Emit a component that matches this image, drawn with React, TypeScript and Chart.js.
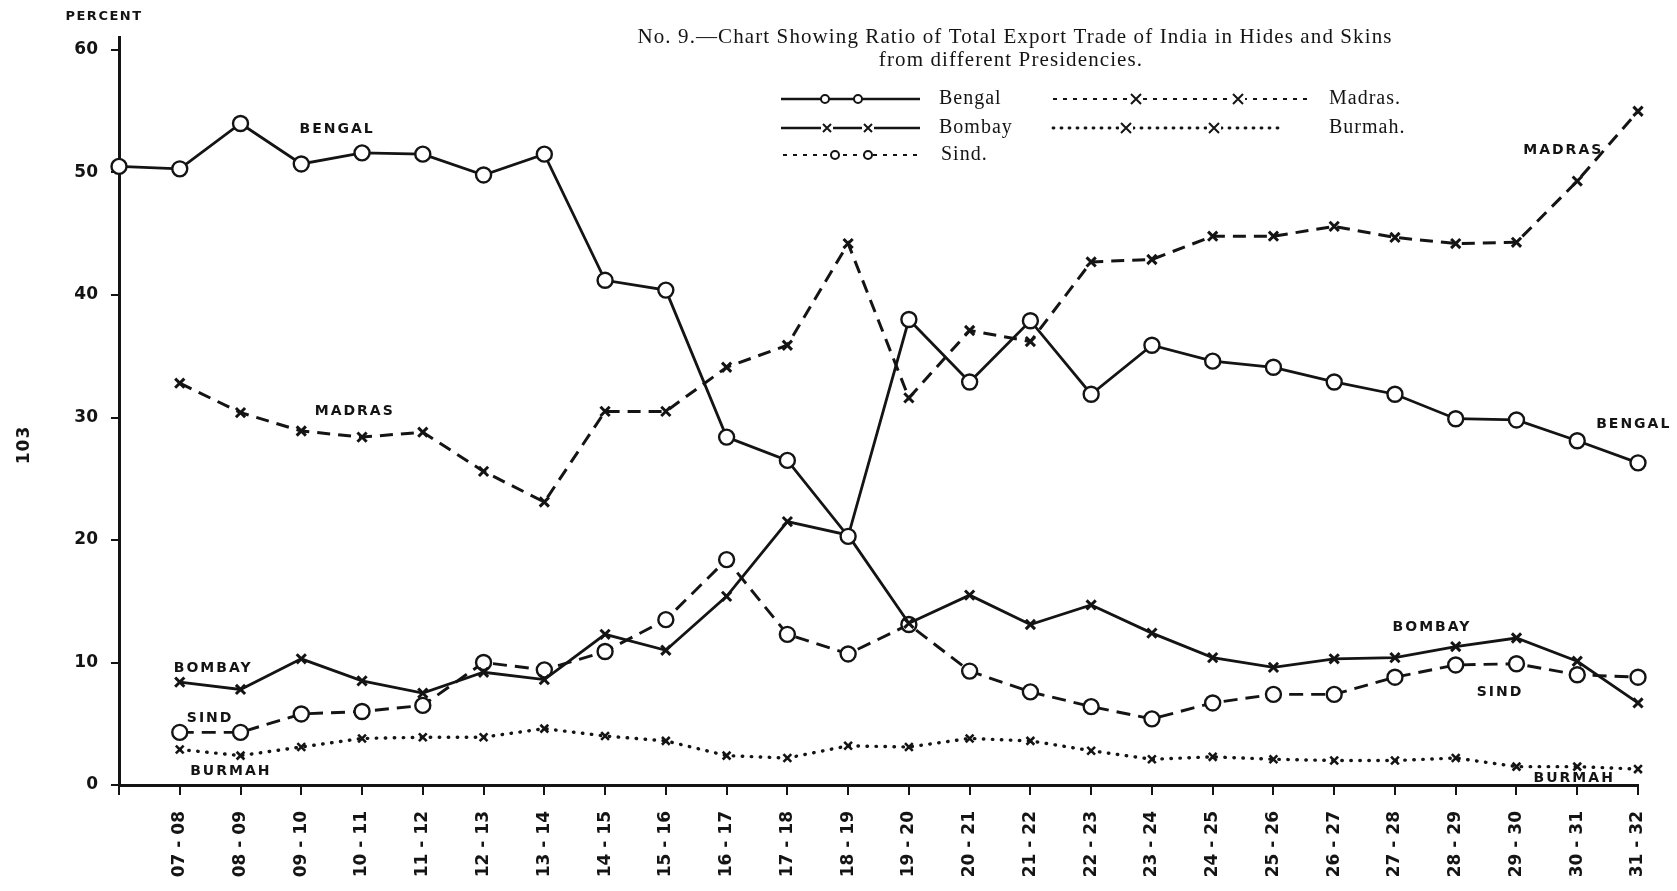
import React, { useEffect, useRef } from 'react';
import { Chart, registerables } from 'chart.js';

Chart.register(...registerables);

// ---- data -------------------------------------------------------------
const periods = [
  '06-07', '07-08', '08-09', '09-10', '10-11', '11-12', '12-13', '13-14', '14-15',
  '15-16', '16-17', '17-18', '18-19', '19-20', '20-21', '21-22', '22-23', '23-24',
  '24-25', '25-26', '26-27', '27-28', '28-29', '29-30', '30-31', '31-32',
];
const tickLabels = [
  '', '07 - 08', '08 - 09', '09 - 10', '10 - 11', '11 - 12', '12 - 13', '13 - 14', '14 - 15',
  '15 - 16', '16 - 17', '17 - 18', '18 - 19', '19 - 20', '20 - 21', '21 - 22', '22 - 23', '23 - 24',
  '24 - 25', '25 - 26', '26 - 27', '27 - 28', '28 - 29', '29 - 30', '30 - 31', '31 - 32',
];
const bengal = [
  50.5, 50.3, 54.0, 50.7, 51.6, 51.5, 49.8, 51.5, 41.2, 40.4, 28.4, 26.5, 20.3,
  38.0, 32.9, 37.9, 31.9, 35.9, 34.6, 34.1, 32.9, 31.9, 29.9, 29.8, 28.1, 26.3,
];
const madras = [
  null, 32.8, 30.4, 28.9, 28.4, 28.8, 25.6, 23.1, 30.5, 30.5, 34.1, 35.9, 44.2,
  31.6, 37.1, 36.2, 42.7, 42.9, 44.8, 44.8, 45.6, 44.7, 44.2, 44.3, 49.3, 55.0,
];
const bombay = [
  null, 8.4, 7.8, 10.3, 8.5, 7.5, 9.2, 8.6, 12.3, 11.0, 15.4, 21.5, 20.4,
  13.2, 15.5, 13.1, 14.7, 12.4, 10.4, 9.6, 10.3, 10.4, 11.3, 12.0, 10.1, 6.7,
];
const sind = [
  null, 4.3, 4.3, 5.8, 6.0, 6.5, 10.0, 9.4, 10.9, 13.5, 18.4, 12.3, 10.7,
  13.1, 9.3, 7.6, 6.4, 5.4, 6.7, 7.4, 7.4, 8.8, 9.8, 9.9, 9.0, 8.8,
];
const burmah = [
  null, 2.9, 2.4, 3.1, 3.8, 3.9, 3.9, 4.6, 4.0, 3.6, 2.4, 2.2, 3.2,
  3.1, 3.8, 3.6, 2.8, 2.1, 2.3, 2.1, 2.0, 2.0, 2.2, 1.5, 1.5, 1.3,
];
const yTicks = [0, 10, 20, 30, 40, 50, 60];

// in-chart labels, placed in data space (category index, value)
const annotations = [
  { text: 'BENGAL', at: 3.59, value: 53.5 },
  { text: 'MADRAS', at: 3.88, value: 30.5 },
  { text: 'BOMBAY', at: 1.55, value: 9.55 },
  { text: 'SIND', at: 1.5, value: 5.47 },
  { text: 'BURMAH', at: 1.84, value: 1.14 },
  { text: 'MADRAS', at: 23.77, value: 51.8 },
  { text: 'BENGAL', at: 24.93, value: 29.4 },
  { text: 'BOMBAY', at: 21.61, value: 12.9 },
  { text: 'SIND', at: 22.73, value: 7.6 },
  { text: 'BURMAH', at: 23.95, value: 0.57 },
];

const INK = '#141414';
const LABEL_FONT = 'bold 14px "DejaVu Sans", sans-serif';
const SERIF = '"Liberation Serif", "DejaVu Serif", serif';

function drawX(ctx: CanvasRenderingContext2D, x: number, y: number, r: number) {
  ctx.beginPath();
  ctx.moveTo(x - r, y - r);
  ctx.lineTo(x + r, y + r);
  ctx.moveTo(x + r, y - r);
  ctx.lineTo(x - r, y + r);
  ctx.stroke();
}

const decorPlugin = {
  id: 'decor',
  beforeDraw(chart: any) {
    const { ctx, width, height } = chart;
    ctx.save();
    ctx.fillStyle = '#ffffff';
    ctx.fillRect(0, 0, width, height);
    ctx.restore();
  },
  afterDraw(chart: any) {
    const { ctx } = chart;
    const xs = chart.scales.x;
    const ys = chart.scales.y;
    ctx.save();
    ctx.fillStyle = INK;
    ctx.strokeStyle = INK;

    // in-chart series labels
    ctx.font = LABEL_FONT;
    (ctx as any).letterSpacing = '2px';
    ctx.textAlign = 'center';
    ctx.textBaseline = 'middle';
    for (const a of annotations) {
      ctx.fillText(a.text, xs.getPixelForValue(a.at), ys.getPixelForValue(a.value));
    }

    // PERCENT
    ctx.font = 'bold 13px "DejaVu Sans", sans-serif';
    (ctx as any).letterSpacing = '1.5px';
    ctx.fillText('PERCENT', 104, 17);

    // page number
    (ctx as any).letterSpacing = '1px';
    ctx.save();
    ctx.translate(25, 445);
    ctx.rotate(-Math.PI / 2);
    ctx.font = 'bold 17px "DejaVu Sans", sans-serif';
    ctx.fillText('103', 0, 0);
    ctx.restore();

    // title
    ctx.font = `21px ${SERIF}`;
    (ctx as any).letterSpacing = '1.1px';
    ctx.fillText('No. 9.\u2014Chart Showing Ratio of Total Export Trade of India in Hides and Skins', 1015, 37);
    ctx.fillText('from different Presidencies.', 1011, 60);

    // legend
    const rows = [
      { label: 'Bengal', x0: 781, x1: 920, tx: 939, y: 99, dash: [], width: 2.4, mark: 'o', marks: [825, 858] },
      { label: 'Bombay', x0: 781, x1: 920, tx: 939, y: 128, dash: [], width: 2.4, mark: 'x', marks: [827, 868] },
      { label: 'Sind.', x0: 783, x1: 918, tx: 941, y: 155, dash: [4, 6], width: 2.2, mark: 'o', marks: [835, 868] },
      { label: 'Madras.', x0: 1053, x1: 1310, tx: 1329, y: 99, dash: [4, 6], width: 2.2, mark: 'X', marks: [1136, 1238] },
      { label: 'Burmah.', x0: 1053, x1: 1280, tx: 1329, y: 128, dash: [1, 7], width: 2.8, mark: 'X', marks: [1126, 1214] },
    ];
    for (const r of rows) {
      ctx.save();
      ctx.lineWidth = r.width;
      ctx.lineCap = r.dash.length && r.dash[0] === 1 ? 'round' : 'butt';
      ctx.setLineDash(r.dash);
      ctx.beginPath();
      ctx.moveTo(r.x0, r.y);
      ctx.lineTo(r.x1, r.y);
      ctx.stroke();
      ctx.restore();
      for (const m of r.marks) {
        if (r.mark === 'o') {
          ctx.save();
          ctx.fillStyle = '#fff';
          ctx.lineWidth = 2;
          ctx.beginPath();
          ctx.arc(m, r.y, 4, 0, Math.PI * 2);
          ctx.fill();
          ctx.stroke();
          ctx.restore();
        } else if (r.mark === 'x') {
          ctx.save();
          ctx.fillStyle = '#fff';
          ctx.fillRect(m - 6, r.y - 6, 12, 12);
          ctx.lineWidth = 2;
          drawX(ctx, m, r.y, 4);
          ctx.restore();
        } else {
          ctx.save();
          ctx.fillStyle = '#fff';
          ctx.fillRect(m - 7, r.y - 8, 14, 16);
          ctx.lineWidth = 2;
          drawX(ctx, m, r.y, 5);
          ctx.restore();
        }
      }
      ctx.font = `20px ${SERIF}`;
      (ctx as any).letterSpacing = '1px';
      ctx.textAlign = 'left';
      ctx.textBaseline = 'middle';
      ctx.fillText(r.label, r.tx, r.y);
    }
    ctx.restore();
  },
};

export default function App() {
  const canvasRef = useRef<HTMLCanvasElement | null>(null);

  useEffect(() => {
    const canvas = canvasRef.current;
    if (!canvas) return;
    const common = { spanGaps: false, clip: false as any, tension: 0 };
    const chart = new Chart(canvas, {
      type: 'line',
      data: {
        labels: periods,
        datasets: [
          {
            ...common,
            label: 'Bengal',
            data: bengal,
            borderColor: INK,
            borderWidth: 2.8,
            pointStyle: 'circle',
            pointRadius: 7.5,
            pointBorderWidth: 2.4,
            pointBackgroundColor: '#ffffff',
            pointBorderColor: INK,
          },
          {
            ...common,
            label: 'Bombay',
            data: bombay,
            borderColor: INK,
            borderWidth: 2.8,
            pointStyle: 'crossRot',
            pointRadius: 6.5,
            pointBorderWidth: 3,
            pointBorderColor: INK,
          },
          {
            ...common,
            label: 'Sind.',
            data: sind,
            borderColor: INK,
            borderWidth: 2.9,
            borderDash: [14, 8],
            pointStyle: 'circle',
            pointRadius: 7.5,
            pointBorderWidth: 2.4,
            pointBackgroundColor: '#ffffff',
            pointBorderColor: INK,
          },
          {
            ...common,
            label: 'Madras.',
            data: madras,
            borderColor: INK,
            borderWidth: 3,
            borderDash: [13, 8],
            pointStyle: 'crossRot',
            pointRadius: 6.5,
            pointBorderWidth: 3,
            pointBorderColor: INK,
          },
          {
            ...common,
            label: 'Burmah.',
            data: burmah,
            borderColor: INK,
            borderWidth: 3.4,
            borderDash: [0.5, 8.5],
            borderCapStyle: 'round',
            pointStyle: 'crossRot',
            pointRadius: 5.5,
            pointBorderWidth: 2.6,
            pointBorderColor: INK,
          },
        ],
      },
      options: {
        responsive: false,
        animation: false,
        devicePixelRatio: 1,
        events: [],
        layout: { padding: { top: 37.75, right: 39, left: 0, bottom: 0 } },
        plugins: {
          legend: { display: false },
          title: { display: false },
          tooltip: { enabled: false },
        },
        scales: {
          x: {
            type: 'category',
            offset: false,
            grid: {
              display: true,
              drawOnChartArea: false,
              drawTicks: true,
              tickLength: 10,
              color: INK,
              lineWidth: 2,
            },
            border: { display: true, color: INK, width: 3 },
            ticks: {
              autoSkip: false,
              maxRotation: 90,
              minRotation: 90,
              padding: 16,
              color: INK,
              font: { family: '"DejaVu Sans", sans-serif', weight: 'bold', size: 17 },
              callback: (_v: any, i: number) => tickLabels[i],
            },
            afterFit: (s: any) => {
              s.height = 106;
            },
          },
          y: {
            type: 'linear',
            min: 0,
            max: 61,
            grid: {
              display: true,
              drawOnChartArea: false,
              drawTicks: true,
              tickLength: 8,
              color: INK,
              lineWidth: 2,
            },
            border: { display: true, color: INK, width: 3 },
            ticks: {
              stepSize: 10,
              padding: 13,
              color: INK,
              font: { family: '"DejaVu Sans", sans-serif', weight: 'bold', size: 17 },
            },
            afterBuildTicks: (s: any) => {
              s.ticks = yTicks.map((v) => ({ value: v }));
            },
            afterFit: (s: any) => {
              s.width = 119;
            },
          },
        },
      } as any,
      plugins: [decorPlugin],
    });
    return () => chart.destroy();
  }, []);

  return (
    <div style={{ position: 'fixed', left: 0, top: 0, width: 1677, height: 891, background: '#fff' }}>
      <canvas ref={canvasRef} width={1677} height={891} style={{ display: 'block' }} />
    </div>
  );
}
